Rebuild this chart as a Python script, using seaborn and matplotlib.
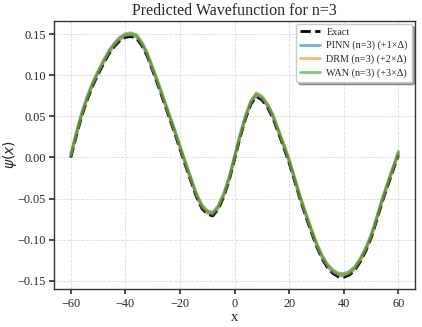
import numpy as np
import pandas as pd
import matplotlib
matplotlib.use("Agg")
import matplotlib.pyplot as plt
import seaborn as sns

# exact wavefunction, every 2 units of x
x_vals = list(range(-60, 61, 2))
psi_exact = [
    0.000, 0.026, 0.050, 0.070, 0.087, 0.101, 0.114, 0.126, 0.135, 0.142,
    0.146, 0.147, 0.145, 0.136, 0.123, 0.105, 0.087, 0.068, 0.049, 0.030,
    0.010, -0.010, -0.029, -0.048, -0.062, -0.069, -0.071, -0.063, -0.048, -0.028,
    -0.002,
    0.024, 0.047, 0.065, 0.074, 0.070, 0.061, 0.048, 0.030, 0.012, -0.007,
    -0.029, -0.051, -0.071, -0.090, -0.108, -0.123, -0.134, -0.141, -0.145, -0.1455,
    -0.143, -0.137, -0.127, -0.114, -0.098, -0.077, -0.055, -0.035, -0.016, 0.003,
]
delta = 0.0015  # vertical display offset
models = ["PINN", "DRM", "WAN"]
model_colors = ["tab:blue", "tab:orange", "tab:green"]

sns.set_theme(style="ticks")
plt.rcParams["font.family"] = ["Liberation Serif", "DejaVu Serif"]
plt.rcParams["mathtext.fontset"] = "dejavusans"

fig, ax = plt.subplots(figsize=(4.22, 3.27), dpi=100)
fig.subplots_adjust(left=0.129, right=0.983, top=0.937, bottom=0.115)

x = np.array(x_vals)
exact = np.array(psi_exact)
sns.lineplot(x=x, y=exact, ax=ax, color="black", linestyle="--", linewidth=2,
             label="Exact", zorder=2)
for k, (name, col) in enumerate(zip(models, model_colors), start=1):
    sns.lineplot(x=x, y=exact + k * delta, ax=ax, color=col, alpha=0.6,
                 linewidth=2, label=f"{name} (n=3) (+{k}×Δ)", zorder=3)

ax.set_title("Predicted Wavefunction for n=3", fontsize=11.5, pad=4)
ax.set_xlabel("x", fontsize=10.5, labelpad=1)
ax.set_ylabel(r"$\psi(x)$", fontsize=10)
ax.yaxis.set_label_coords(-0.098, 0.5)
ax.set_xticks([-60, -40, -20, 0, 20, 40, 60])
ax.set_yticks([-0.15, -0.10, -0.05, 0.00, 0.05, 0.10, 0.15])
ax.tick_params(labelsize=8.8, length=3.5, pad=2.5, color="#333333")
ax.grid(True, linestyle="--", linewidth=0.6, color="#cccccc", alpha=0.7)
for sp in ax.spines.values():
    sp.set_color("#333333")
    sp.set_linewidth(1.0)

ax.legend(loc="upper right", fontsize=7.3, shadow=True, fancybox=True,
          framealpha=1.0, borderpad=0.4, labelspacing=0.4,
          handletextpad=0.6, borderaxespad=0.3)

fig.savefig("out.png", dpi=100)
